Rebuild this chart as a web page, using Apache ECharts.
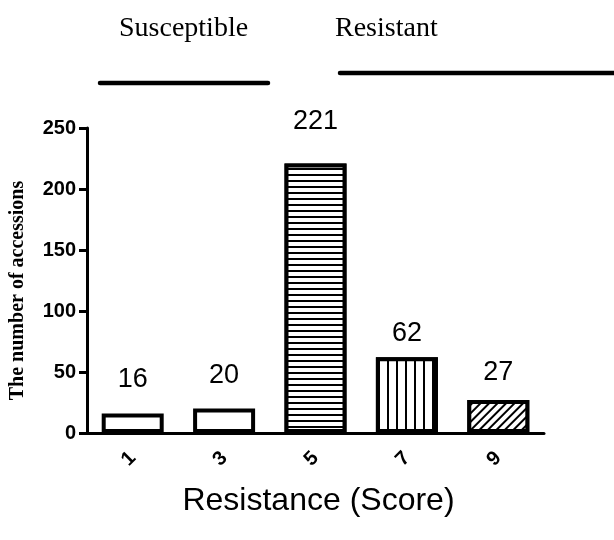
<!DOCTYPE html>
<html>
<head>
<meta charset="utf-8">
<script src="https://cdn.jsdelivr.net/npm/echarts@6/dist/echarts.min.js"></script>
<style>
  html, body { margin: 0; padding: 0; background: #fff; }
  #chart { width: 614px; height: 540px; }
</style>
</head>
<body>
<div id="chart"></div>
<script>
const scores = ["1", "3", "5", "7", "9"];
const accessions = [16, 20, 221, 62, 27];
const fills = ["none", "none", "hlines", "vlines", "hatch"];
const labelGap = [20, 20, 28, 10, 14];
const yTicks = [0, 50, 100, 150, 200, 250];

// decal patterns for the bar fills
const decals = {
  none: null,
  hlines: { symbol: "rect", symbolSize: 1, color: "#000", backgroundColor: "#fff",
            dashArrayX: [1, 0], dashArrayY: [2, 4], rotation: 0 },
  vlines: { symbol: "rect", symbolSize: 1, color: "#000", backgroundColor: "#fff",
            dashArrayX: [1.5, 6.3], dashArrayY: [1, 0], rotation: 0 },
  hatch: { symbol: "rect", symbolSize: 1, color: "#000", backgroundColor: "#fff",
           dashArrayX: [1, 0], dashArrayY: [1.4, 3.4], rotation: -Math.PI / 4 }
};

const chart = echarts.init(document.getElementById("chart"));
chart.setOption({
  animation: false,
  grid: { left: 86, right: 70, top: 128, bottom: 107 },
  xAxis: {
    type: "category",
    data: scores,
    name: "Resistance (Score)",
    nameLocation: "middle",
    nameGap: 52,
    nameTextStyle: { fontFamily: "Liberation Sans", fontSize: 32, color: "#000", padding: [0, 0, 0, 6] },
    axisLine: { lineStyle: { color: "#000", width: 3 } },
    axisTick: { alignWithLabel: true, length: 8, lineStyle: { color: "#000", width: 3 } },
    axisLabel: {
      rotate: 45, margin: 22,
      fontFamily: "Liberation Sans", fontWeight: "bold", fontSize: 20, color: "#000"
    }
  },
  yAxis: {
    type: "value",
    min: yTicks[0],
    max: yTicks[yTicks.length - 1],
    interval: yTicks[1] - yTicks[0],
    name: "The number of accessions",
    nameLocation: "middle",
    nameGap: 59,
    nameTextStyle: {
      fontFamily: "Liberation Serif", fontWeight: "bold", fontSize: 20, color: "#000",
      padding: [0, 20, 0, 0]
    },
    axisLine: { show: true, lineStyle: { color: "#000", width: 3 } },
    axisTick: { show: true, length: 8, lineStyle: { color: "#000", width: 3 } },
    axisLabel: {
      margin: 11,
      fontFamily: "Liberation Sans", fontWeight: "bold", fontSize: 20, color: "#000"
    },
    splitLine: { show: false }
  },
  series: [
    {
      type: "bar",
      barWidth: 62,
      data: accessions.map((v, i) => ({
        value: v,
        itemStyle: decals[fills[i]] ? { decal: decals[fills[i]] } : {},
        label: { distance: labelGap[i] }
      })),
      itemStyle: { color: "#fff", borderColor: "#000", borderWidth: 4 },
      label: {
        show: true,
        position: "top",
        fontFamily: "Liberation Sans",
        fontSize: 27,
        color: "#000"
      }
    }
  ],
  graphic: [
    {
      type: "text", left: 119, top: 15,
      style: { text: "Susceptible", font: "28px 'Liberation Serif'", fill: "#000" }
    },
    {
      type: "text", left: 335, top: 15,
      style: { text: "Resistant", font: "28px 'Liberation Serif'", fill: "#000" }
    },
    {
      type: "line",
      shape: { x1: 100, y1: 83, x2: 268, y2: 83 },
      style: { stroke: "#000", lineWidth: 4.5, lineCap: "round" }
    },
    {
      type: "line",
      shape: { x1: 340, y1: 73, x2: 616, y2: 73 },
      style: { stroke: "#000", lineWidth: 4.5, lineCap: "round" }
    }
  ]
});

window.addEventListener("resize", () => {
  chart.resize();
});
</script>
</body>
</html>
